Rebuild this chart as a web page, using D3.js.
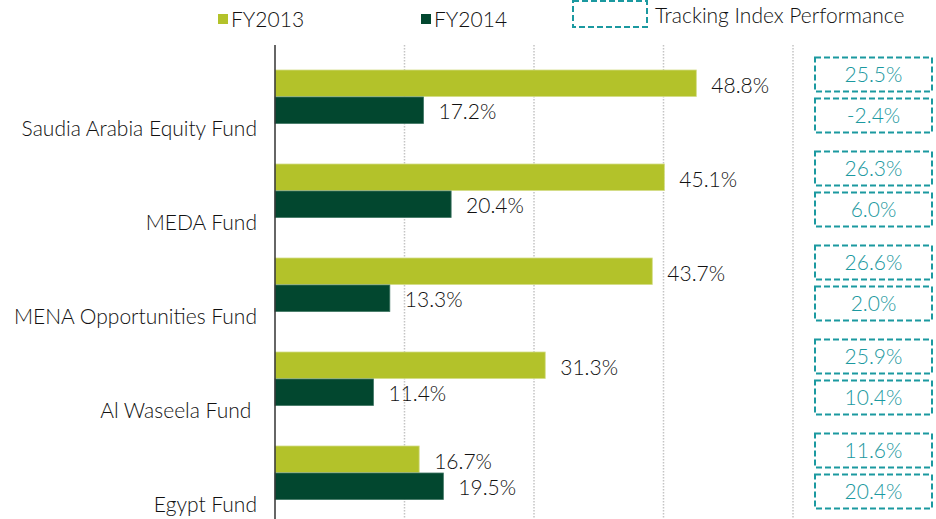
<!DOCTYPE html>
<html>
<head>
<meta charset="utf-8">
<script src="https://cdn.jsdelivr.net/npm/d3@7"></script>
<style>
  body { margin: 0; background: #fff; }
  svg text { font-family: Lato, "Open Sans", sans-serif; font-weight: 300; font-size: 21px; }
</style>
</head>
<body>
<div id="chart"></div>
<script>
// data
var funds = ["Saudia Arabia Equity Fund", "MEDA Fund", "MENA Opportunities Fund", "Al Waseela Fund ", "Egypt Fund"];
var fy2013 = [48.8, 45.1, 43.7, 31.3, 16.7];
var fy2014 = [17.2, 20.4, 13.3, 11.4, 19.5];
var track2013 = ["25.5%", "26.3%", "26.6%", "25.9%", "11.6%"];
var track2014 = ["-2.4%", "6.0%", "2.0%", "10.4%", "20.4%"];
var xTicks = [15, 30, 45, 60];

var width = 936, height = 519;
var plotLeft = 275, plotTop = 49.5;

var c2013 = "#b3c22a", c2014 = "#02472f", teal = "#1b99a0";

var svg = d3.select("#chart").append("svg")
  .attr("width", width)
  .attr("height", height);

var x = d3.scaleLinear().domain([0, 60]).range([plotLeft, 793]);
var y = d3.scaleBand().domain(funds).range([plotTop, 519.5]);
var barH = 26.5;

// dotted gridlines
svg.append("g")
  .selectAll("line")
  .data(xTicks)
  .enter()
  .append("line")
  .attr("x1", function(d) { return x(d); })
  .attr("x2", function(d) { return x(d); })
  .attr("y1", 45)
  .attr("y2", height)
  .style("stroke", "#c4c4c4")
  .style("stroke-width", 1.5)
  .style("stroke-dasharray", "1.5,1.5");

var groups = svg.append("g")
  .selectAll("g")
  .data(funds)
  .enter()
  .append("g")
  .attr("transform", function(d) { return "translate(0," + (y(d) + y.bandwidth() / 2) + ")"; });

// FY2013 bars
groups.append("rect")
  .attr("x", x(0))
  .attr("y", -barH)
  .attr("width", function(d, i) { return x(fy2013[i]) - x(0); })
  .attr("height", barH)
  .style("fill", c2013)
  .style("stroke", "#d3dc85")
  .style("stroke-width", 0.8);

// FY2014 bars
groups.append("rect")
  .attr("x", x(0))
  .attr("y", 0.5)
  .attr("width", function(d, i) { return x(fy2014[i]) - x(0); })
  .attr("height", barH)
  .style("fill", c2014)
  .style("stroke", "#3f7563")
  .style("stroke-width", 0.8);

// value labels
groups.append("text")
  .attr("x", function(d, i) { return x(fy2013[i]) + 15; })
  .attr("y", -barH / 2 + 2)
  .attr("dy", "0.35em")
  .style("fill", "#111")
  .text(function(d, i) { return fy2013[i].toFixed(1) + "%"; });

groups.append("text")
  .attr("x", function(d, i) { return x(fy2014[i]) + 15; })
  .attr("y", barH / 2 + 2)
  .attr("dy", "0.35em")
  .style("fill", "#111")
  .text(function(d, i) { return fy2014[i].toFixed(1) + "%"; });

// category labels sit below the bar pair
groups.append("text")
  .attr("x", 257)
  .attr("y", 32.5)
  .attr("dy", "0.35em")
  .style("text-anchor", "end")
  .style("white-space", "pre")
  .style("fill", "#111")
  .text(function(d) { return d; });

// tracking index boxes
var boxW = 117, boxH = 34;
[[track2013, -39], [track2014, 2]].forEach(function(t) {
  var b = groups.append("g")
    .attr("transform", "translate(815," + t[1] + ")");
  b.append("rect")
    .attr("width", boxW)
    .attr("height", boxH)
    .style("fill", "none")
    .style("stroke", teal)
    .style("stroke-width", 2)
    .style("stroke-dasharray", "6,3");
  b.append("text")
    .attr("x", boxW / 2)
    .attr("y", boxH / 2)
    .attr("dy", "0.35em")
    .style("text-anchor", "middle")
    .style("fill", teal)
    .text(function(d, i) { return t[0][i]; });
});

// y axis line
svg.append("line")
  .attr("x1", plotLeft)
  .attr("x2", plotLeft)
  .attr("y1", 45)
  .attr("y2", height)
  .style("stroke", "#333")
  .style("stroke-width", 1.5);

// legend
var legend = svg.append("g");
legend.append("rect").attr("x", 218).attr("y", 14).attr("width", 10).attr("height", 10).style("fill", c2013);
legend.append("text").attr("x", 231).attr("y", 20).attr("dy", "0.35em")
  .style("fill", "#111").text("FY2013");
legend.append("rect").attr("x", 421).attr("y", 14).attr("width", 10).attr("height", 10).style("fill", c2014);
legend.append("text").attr("x", 434).attr("y", 20).attr("dy", "0.35em")
  .style("fill", "#111").text("FY2014");
legend.append("rect").attr("x", 573).attr("y", 1).attr("width", 74).attr("height", 26)
  .style("fill", "none").style("stroke", teal).style("stroke-width", 2).style("stroke-dasharray", "6,3");
legend.append("text").attr("x", 655).attr("y", 16).attr("dy", "0.35em")
  .style("fill", "#111").text("Tracking Index Performance");
</script>
</body>
</html>
